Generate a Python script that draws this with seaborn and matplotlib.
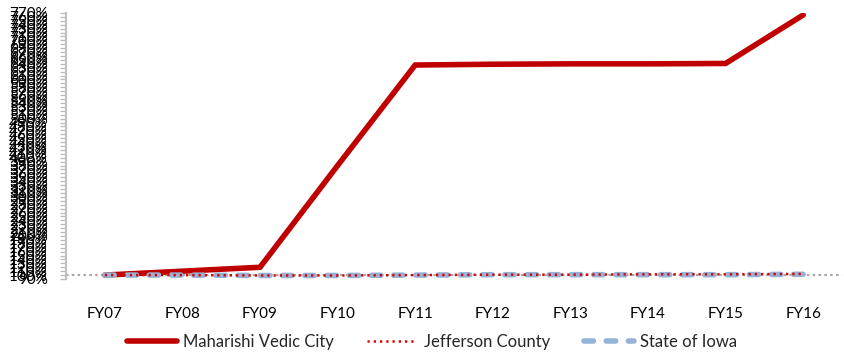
import matplotlib
matplotlib.use("Agg")
import matplotlib.pyplot as plt
import seaborn as sns
import pandas as pd
from matplotlib.ticker import FuncFormatter, MultipleLocator

# Cumulative index values (FY07 = 100%)
years = ["FY07", "FY08", "FY09", "FY10", "FY11", "FY12", "FY13", "FY14", "FY15", "FY16"]
maharishi = [100, 110, 120, 380, 637, 639, 640, 640, 641, 765]
jefferson = [100, 100, 99, 99, 100, 101, 101, 102, 102, 103]
iowa = [100, 100, 99, 99, 100, 101, 101, 101, 101, 102]

y_min, y_max, y_step = 90, 770, 10

sns.set_theme(style="white")
plt.rcParams["font.family"] = ["Lato", "DejaVu Sans"]

fig = plt.figure(figsize=(8.45, 3.54), dpi=100)
ax = fig.add_axes([66 / 845, 1 - 279 / 354, (842 - 66) / 845, (279 - 13) / 354])

df = pd.DataFrame({"year": years, "Maharishi Vedic City": maharishi,
                   "Jefferson County": jefferson, "State of Iowa": iowa})

# axis line at 100%
ax.axhline(100, color="#A6A6A6", lw=1.5, ls=(0, (1.2, 1.6)), zorder=1)

sns.lineplot(data=df, x="year", y="Maharishi Vedic City", ax=ax, color="#C00000",
             lw=4, solid_capstyle="round", solid_joinstyle="miter",
             label="Maharishi Vedic City", zorder=3)
sns.lineplot(data=df, x="year", y="State of Iowa", ax=ax, color="#95B3D7",
             lw=4, dash_capstyle="round", label="State of Iowa", zorder=4)
ax.lines[-1].set_dashes((1.7, 2.3))
sns.lineplot(data=df, x="year", y="Jefferson County", ax=ax, color="#E00000",
             lw=1.8, label="Jefferson County", zorder=5)
ax.lines[-1].set_dashes((0.9, 1.6))

ax.set_xlim(-0.5, len(years) - 0.5)
ax.set_ylim(y_min, y_max)
ax.yaxis.set_major_locator(MultipleLocator(y_step))
ax.yaxis.set_major_formatter(FuncFormatter(lambda v, p: f"{v:.0f}%"))
ax.set_xlabel("")
ax.set_ylabel("")

for s in ["top", "right", "bottom"]:
    ax.spines[s].set_visible(False)
ax.spines["left"].set_color("#BFBFBF")
ax.spines["left"].set_linewidth(1.5)

ax.tick_params(axis="y", which="major", left=True, length=4, width=1, color="#BFBFBF",
               labelsize=11, labelcolor="black", pad=9)
ax.tick_params(axis="x", bottom=False, labelsize=11, labelcolor="black", pad=14)

handles, labels = ax.get_legend_handles_labels()
order = ["Maharishi Vedic City", "Jefferson County", "State of Iowa"]
hmap = dict(zip(labels, handles))
ax.legend([hmap[k] for k in order], order, loc="center",
          bbox_to_anchor=(432 / 845, 1 - 342 / 354),
          bbox_transform=fig.transFigure, ncol=3, frameon=False, fontsize=12,
          handlelength=3.0, handletextpad=0.4, columnspacing=2.0)

fig.savefig("out.png", dpi=100)
